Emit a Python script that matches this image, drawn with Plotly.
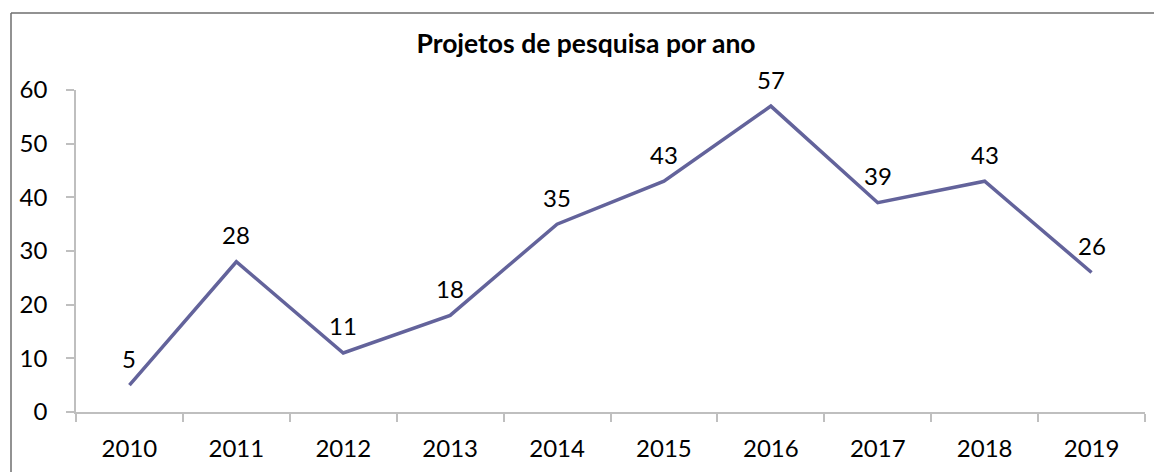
import plotly.graph_objects as go

years = ["2010", "2011", "2012", "2013", "2014", "2015", "2016", "2017", "2018", "2019"]
projects = [5, 28, 11, 18, 35, 43, 57, 39, 43, 26]
y_ticks = [0, 10, 20, 30, 40, 50, 60]
title_text = "Projetos de pesquisa por ano"

W, H = 1154, 472
L, R, T, B = 76, 9, 90, 60
pw, ph = W - L - R, H - T - B

FONT = "Lato, Calibri, sans-serif"
LINE_COLOR = "#63639B"
AXIS_COLOR = "#BFBFBF"

fig = go.Figure()
fig.add_trace(go.Scatter(
    x=years, y=projects, mode="lines",
    line=dict(color=LINE_COLOR, width=3.5),
    cliponaxis=False, hoverinfo="x+y",
))

# data labels (category axis: position by category index)
for i, v in enumerate(projects):
    fig.add_annotation(x=i, y=v, xref="x", yref="y", text=str(v), showarrow=False,
                       yshift=27, font=dict(family=FONT, size=24, color="#000"))

def px_x(p):
    return (p - L) / pw

def px_y(p):
    return 1 - (p - T) / ph

# outer chart border (top and left edges visible)
fig.add_shape(type="line", xref="paper", yref="paper",
              x0=px_x(11), x1=px_x(W + 5), y0=px_y(13), y1=px_y(13),
              line=dict(color="#6E6E6E", width=1.5))
fig.add_shape(type="line", xref="paper", yref="paper",
              x0=px_x(11), x1=px_x(11), y0=px_y(13), y1=px_y(H + 5),
              line=dict(color="#6E6E6E", width=1.5))

fig.update_layout(
    width=W, height=H,
    margin=dict(l=L, r=R, t=T, b=B),
    paper_bgcolor="white", plot_bgcolor="white",
    showlegend=False,
    title=dict(text="<b>" + title_text + "</b>", x=586 / W, xanchor="center",
               y=1 - 44 / H, yanchor="middle",
               font=dict(family=FONT, size=26.5, color="#000")),
    xaxis=dict(
        type="category", tickson="boundaries",
        showline=True, linecolor=AXIS_COLOR, linewidth=1.5,
        ticks="outside", ticklen=8, tickcolor=AXIS_COLOR, tickwidth=1.5,
        showgrid=False, zeroline=False,
        tickfont=dict(family=FONT, size=24, color="#000"),
        ticklabelstandoff=14,
        range=[-0.5, 9.5],
    ),
    yaxis=dict(
        range=[0, 60], tickvals=y_ticks,
        showline=True, linecolor=AXIS_COLOR, linewidth=1.5,
        ticks="outside", ticklen=8, tickcolor=AXIS_COLOR, tickwidth=1.5,
        showgrid=False, zeroline=False,
        tickfont=dict(family=FONT, size=24, color="#000"),
        ticklabelstandoff=14,
    ),
)

fig.write_html("out.html", config={"displayModeBar": False},
               post_script="document.body.style.margin='0px';")
